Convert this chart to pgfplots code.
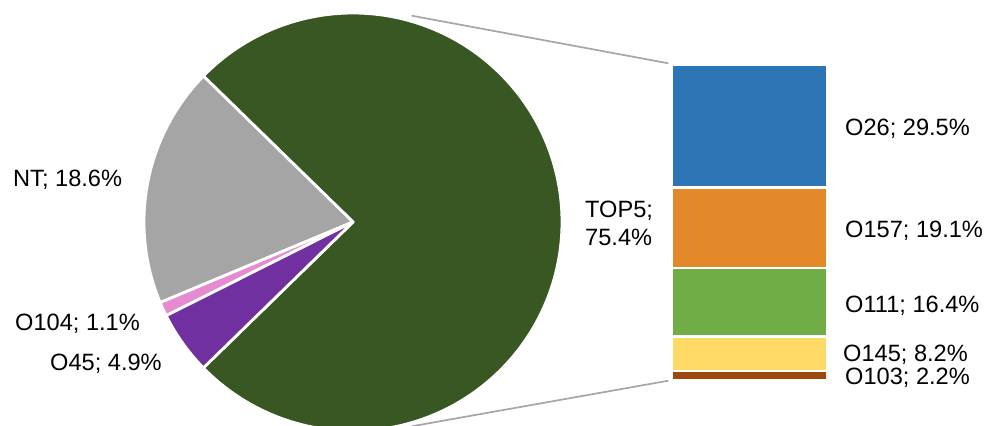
\documentclass[border=0pt]{standalone}
\usepackage{fontspec}
\setmainfont{Liberation Sans}
\usepackage{pgfplots}
\pgfplotsset{compat=1.18}
\definecolor{ctop}{HTML}{385723}
\definecolor{cnt}{HTML}{A5A5A5}
\definecolor{cpink}{HTML}{E68BD2}
\definecolor{cpurp}{HTML}{7030A0}
\definecolor{cblue}{HTML}{2E75B6}
\definecolor{corange}{HTML}{E3892A}
\definecolor{cgreen}{HTML}{70AD47}
\definecolor{cyellow}{HTML}{FFD966}
\definecolor{cbrown}{HTML}{9E480E}
\definecolor{cline}{HTML}{A6A6A6}
\tikzset{lbl/.style={anchor=base west, inner sep=0pt, font=\fontsize{23.6}{28}\selectfont}}
\begin{document}
\begin{tikzpicture}
\useasboundingbox (0,0) rectangle (989pt,426pt);
\begin{axis}[at={(0,0)}, anchor=south west, scale only axis, width=989pt, height=426pt,
  xmin=0, xmax=989, ymin=0, ymax=426, hide axis]
% pie slices: TOP5 75.4%, NT 18.6%, O104 1.1%, O45 4.9% (angles in degrees)
\addplot[fill=ctop, draw=white, line width=2.8pt, line join=round, domain=-135.72:135.72, samples=200]
  ({353+209*cos(x)},{204+209*sin(x)}) -- (axis cs:353,204) -- cycle;
\addplot[fill=cnt, draw=white, line width=2.8pt, line join=round, domain=135.72:202.68, samples=60]
  ({353+209*cos(x)},{204+209*sin(x)}) -- (axis cs:353,204) -- cycle;
\addplot[fill=cpink, draw=white, line width=2.8pt, line join=round, domain=202.68:206.64, samples=10]
  ({353+209*cos(x)},{204+209*sin(x)}) -- (axis cs:353,204) -- cycle;
\addplot[fill=cpurp, draw=white, line width=2.8pt, line join=round, domain=206.64:224.28, samples=20]
  ({353+209*cos(x)},{204+209*sin(x)}) -- (axis cs:353,204) -- cycle;
% connector lines
\addplot[cline, line width=1.7pt] coordinates {(411.7,410.3) (668.3,362.7)};
\addplot[cline, line width=1.7pt] coordinates {(411.7,-0.3) (668.3,45.3)};
% labels
\node[lbl] at (axis cs:13,239.3) {NT; 18.6\%};
\node[lbl] at (axis cs:15,95.5) {O104; 1.1\%};
\node[lbl] at (axis cs:50,55.5) {O45; 4.9\%};
\node[lbl] at (axis cs:585,208.7) {TOP5;};
\node[lbl] at (axis cs:585,180) {75.4\%};
\node[lbl] at (axis cs:845,290.3) {O26; 29.5\%};
\node[lbl] at (axis cs:845,188.7) {O157; 19.1\%};
\node[lbl] at (axis cs:845,113.3) {O111; 16.4\%};
\node[lbl] at (axis cs:843,64.3) {O145; 8.2\%};
\node[lbl] at (axis cs:845,41) {O103; 2.2\%};
\coordinate (barSW) at (axis cs:672,45.8);
\end{axis}
\begin{axis}[at={(barSW)}, anchor=south west, scale only axis, width=155pt, height=315.9pt,
  xmin=-0.5, xmax=0.5, ymin=0, ymax=75.4, hide axis, clip=false,
  ybar stacked, bar width=155pt]
\addplot[fill=cbrown, draw=white, line width=2.8pt] coordinates {(0,2.2)};
\addplot[fill=cyellow, draw=white, line width=2.8pt] coordinates {(0,8.2)};
\addplot[fill=cgreen, draw=white, line width=2.8pt] coordinates {(0,16.4)};
\addplot[fill=corange, draw=white, line width=2.8pt] coordinates {(0,19.1)};
\addplot[fill=cblue, draw=white, line width=2.8pt] coordinates {(0,29.5)};
\end{axis}
\end{tikzpicture}
\end{document}
